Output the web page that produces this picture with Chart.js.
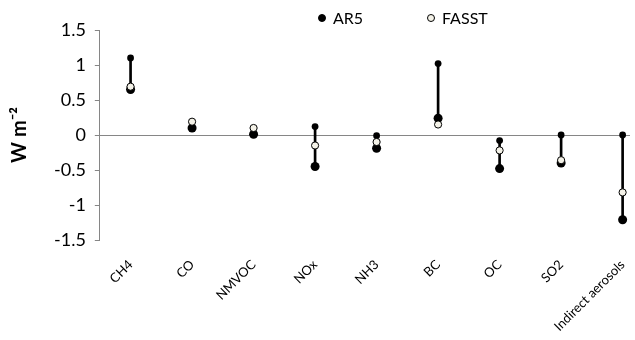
<!DOCTYPE html>
<html><head><meta charset="utf-8">
<script src="https://cdn.jsdelivr.net/npm/chart.js@4.4.1/dist/chart.umd.min.js"></script>
<style>html,body{margin:0;padding:0;background:#fff;overflow:hidden}#wrap{width:635px;height:340px;position:relative}</style>
</head><body><div id="wrap"><canvas id="c" width="635" height="340"></canvas></div>
<script>
const categories = ['CH4','CO','NMVOC','NOx','NH3','BC','OC','SO2','Indirect aerosols'];
const ar5Low  = [0.65, 0.10, 0.01, -0.45, -0.19, 0.24, -0.48, -0.40, -1.21];
const ar5High = [1.10, null, null, 0.12, -0.01, 1.02, -0.08, 0.00, 0.00];
const fasst   = [0.69, 0.19, 0.10, -0.15, -0.10, 0.15, -0.22, -0.36, -0.82];
const yTicks  = [-1.5, -1, -0.5, 0, 0.5, 1, 1.5];
const seriesNames = ['AR5', 'FASST'];

const FONT = 'Lato, "Open Sans", sans-serif';
const GREY = '#868686';
const CREAM = '#f4f2e8';

const pts = arr => arr.map((v, i) => (v === null ? null : {x: i, y: v})).filter(p => p);
const ranges = ar5High.map((h, i) => (h === null ? null : {x: i, y: [ar5Low[i], h]})).filter(p => p);

const legendPlugin = {
  id: 'customLegend',
  afterDraw(chart) {
    const ctx = chart.ctx;
    const items = [
      {text: seriesNames[0], fill: '#000', x: 322},
      {text: seriesNames[1], fill: CREAM, x: 431}
    ];
    const y = 18;
    ctx.save();
    ctx.font = '16px ' + FONT;
    ctx.textBaseline = 'middle';
    ctx.textAlign = 'left';
    items.forEach(it => {
      ctx.beginPath();
      ctx.arc(it.x, y, 3.5, 0, Math.PI * 2);
      ctx.fillStyle = it.fill;
      ctx.fill();
      ctx.lineWidth = 1;
      ctx.strokeStyle = '#000';
      ctx.stroke();
      ctx.fillStyle = '#000';
      ctx.fillText(it.text, it.x + 11, y + 1);
    });
    ctx.restore();
  }
};

new Chart(document.getElementById('c'), {
  type: 'scatter',
  data: {
    datasets: [
      {label: seriesNames[1], data: pts(fasst), order: 0, pointRadius: 3.6, pointBackgroundColor: CREAM,
       pointBorderColor: '#000', pointBorderWidth: 1, showLine: false},
      {label: seriesNames[0], data: pts(ar5Low), order: 1, pointRadius: 4.5, pointBackgroundColor: '#000',
       pointBorderColor: '#000', pointBorderWidth: 0, showLine: false},
      {label: 'AR5 range end', data: pts(ar5High), order: 2, pointRadius: 3.4, pointBackgroundColor: '#000',
       pointBorderColor: '#000', pointBorderWidth: 0, showLine: false},
      {type: 'bar', label: 'AR5 range', data: ranges, order: 3, backgroundColor: '#000', barThickness: 2,
       borderWidth: 0}
    ]
  },
  options: {
    responsive: false,
    animation: false,
    devicePixelRatio: 1,
    layout: {padding: {top: 30, right: 0, left: 8, bottom: 0}},
    plugins: {legend: {display: false}, tooltip: {enabled: false}},
    scales: {
      x: {
        type: 'linear', min: -0.5, max: 8.12, bounds: 'data', offset: false,
        afterBuildTicks: s => { s.ticks = categories.map((c, i) => ({value: i})); },
        afterFit: s => { s.height = 100; s.paddingRight = 0; s.paddingLeft = 0; },
        grid: {display: false, offset: false},
        border: {display: false},
        ticks: {autoSkip: false, maxRotation: 45, minRotation: 45, padding: 9,
                font: {family: FONT, size: 13}, color: '#000',
                callback: v => categories[v]}
      },
      y: {
        min: -1.5, max: 1.5, bounds: 'data',
        afterBuildTicks: s => { s.ticks = yTicks.map(v => ({value: v})); },
        grid: {drawOnChartArea: true, color: c => (c.tick && c.tick.value === 0 ? GREY : 'rgba(0,0,0,0)'),
               tickColor: GREY, tickLength: 5, lineWidth: 1},
        border: {display: true, color: GREY},
        ticks: {font: {family: FONT, size: 18}, color: '#000', padding: 9, callback: v => String(v)},
        title: {display: true, text: 'W m\u207B\u00B2', font: {family: FONT, size: 20, weight: 'bold'}, color: '#000', padding: {top: 0, bottom: 13}}
      }
    }
  },
  plugins: [legendPlugin]
});
</script>
</body></html>
